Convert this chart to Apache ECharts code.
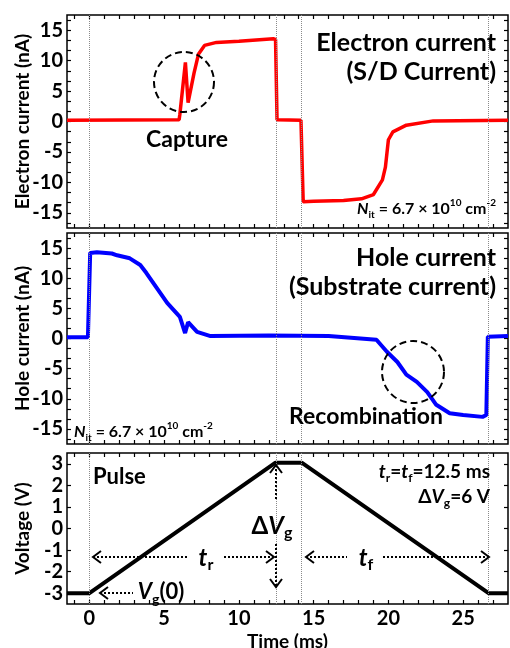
<!DOCTYPE html>
<html>
<head>
<meta charset="utf-8">
<script src="https://cdn.jsdelivr.net/npm/echarts@6/dist/echarts.min.js"></script>
<style>
  html, body { margin: 0; padding: 0; background: #fff; }
  #chart { width: 510px; height: 648px; }
</style>
</head>
<body>
<div id="chart"></div>
<script>
// time axis (ms)
const xLabelValues = [0, 5, 10, 15, 20, 25];
const xTickValues = [-1, 0, 1, 2, 3, 4, 5, 6, 7, 8, 9, 10, 11, 12, 13, 14, 15, 16, 17, 18, 19, 20, 21, 22, 23, 24, 25, 26, 27];
// current axes (nA)
const iLabelValues = [-15, -10, -5, 0, 5, 10, 15];
const iTickValues = [-16.67, -15, -13.33, -11.67, -10, -8.33, -6.67, -5, -3.33, -1.67, 0, 1.67, 3.33, 5, 6.67, 8.33, 10, 11.67, 13.33, 15, 16.67];
// voltage axis (V)
const vLabelValues = [-3, -2, -1, 0, 1, 2, 3];
const vTickValues = [-3, -2, -1, 0, 1, 2, 3];
// vertical guide lines (ms)
const guideTimes = [0, 12.5, 14.2, 26.7];

// electron current (S/D current)
const elecT = [-1.5, 6.0, 6.05, 6.42, 6.6, 7.0, 7.3, 7.7, 8.5, 10, 12.3, 12.45, 12.55, 14.15, 14.3, 15, 17, 18.2, 19.0, 19.6, 19.8, 20.0, 20.3, 21.2, 23, 28];
const elecI = [0.2, 0.3, 1.2, 9.7, 3.1, 8.0, 11.1, 12.5, 13.0, 13.2, 13.6, 13.5, 0.3, 0.2, -13.2, -13.1, -13.0, -12.7, -12.0, -9.6, -7.5, -3.0, -1.7, -0.6, 0.1, 0.2];

// hole current (substrate current)
const holeT = [-1.5, -0.1, 0.05, 0.5, 1.5, 1.85, 2.7, 3.4, 3.8, 4.5, 5.2, 6.05, 6.4, 6.6, 7.2, 8.1, 12, 16, 19.2, 19.9, 20.6, 21.2, 21.9, 22.6, 23.2, 24.1, 25, 26.3, 26.55, 26.65, 28];
const holeI = [0.2, 0.2, 14.2, 14.3, 14.1, 13.8, 13.3, 12.2, 10.9, 8.4, 5.9, 3.6, 0.9, 2.7, 1.1, 0.4, 0.5, 0.4, -0.2, -2.2, -3.9, -6.0, -7.2, -8.9, -11.0, -12.4, -12.7, -13.0, -12.7, 0.3, 0.4];

// gate pulse
const voltT = [-1.5, 0, 12.45, 14.2, 26.7, 28];
const voltV = [-3.0, -3.0, 3.05, 3.05, -3.0, -3.0];

const FONT = 'Lato';
const W = 'bold';
const grids = [
  { left: 67, top: 15, width: 441, height: 213 },
  { left: 67, top: 233, width: 441, height: 211 },
  { left: 67, top: 453, width: 441, height: 151 }
];
grids.forEach(function (g) {
  g.show = true; g.borderColor = '#000'; g.borderWidth = 1.5;
  g.containLabel = false; g.outerBoundsMode = 'none';
});

function xAxisFor(idx, pos, showLabel) {
  return {
    type: 'value', gridIndex: idx, position: pos, min: -1.5, max: 28,
    axisLine: { show: false, onZero: false },
    splitLine: { show: false },
    axisTick: { show: true, inside: true, length: 4, customValues: xTickValues, lineStyle: { color: '#000', width: 1.2 } },
    axisLabel: { show: showLabel, customValues: xLabelValues, margin: 5, color: '#000', fontFamily: FONT, fontWeight: W, fontSize: 20 },
    name: showLabel ? 'Time (ms)' : '', nameLocation: 'middle', nameGap: 28, nameMoveOverlap: false,
    nameTextStyle: { color: '#000', fontFamily: FONT, fontWeight: W, fontSize: 19 }
  };
}
function yAxisFor(idx, pos, min, max, ticks, labels, name) {
  const left = pos === 'left';
  return {
    type: 'value', gridIndex: idx, position: pos, min: min, max: max,
    axisLine: { show: false, onZero: false },
    splitLine: { show: false },
    axisTick: { show: true, inside: true, length: 4, customValues: ticks, lineStyle: { color: '#000', width: 1.2 } },
    axisLabel: { show: left, customValues: labels, margin: 4, color: '#000', fontFamily: FONT, fontWeight: W, fontSize: 20 },
    name: left ? name : '', nameLocation: 'middle', nameGap: 35, nameMoveOverlap: false,
    nameTextStyle: { color: '#000', fontFamily: FONT, fontWeight: W, fontSize: 19 }
  };
}

const guides = {
  silent: true, symbol: 'none', label: { show: false },
  lineStyle: { type: 'dotted', color: '#8a8a8a', width: 1 },
  data: guideTimes.map(function (t) { return { xAxis: t }; })
};

function pairs(ts, vs) { return ts.map(function (t, k) { return [t, vs[k]]; }); }

function rich(size) {
  const sub = Math.round(size * 0.65);
  return {
    n: { fontFamily: FONT, fontWeight: W, fontSize: size, lineHeight: size + 6, fill: '#000' },
    i: { fontFamily: FONT, fontWeight: W, fontStyle: 'italic', fontSize: size, lineHeight: size + 6, fill: '#000' },
    s: { fontFamily: FONT, fontWeight: W, fontSize: sub, lineHeight: sub + 2, verticalAlign: 'bottom', fill: '#000' },
    p: { fontFamily: FONT, fontWeight: W, fontSize: sub, lineHeight: sub + 2, verticalAlign: 'top', fill: '#000' }
  };
}
function txt(x, y, text, size, align, r) {
  const st = { text: text, fontFamily: FONT, fontWeight: W, fontSize: size, fill: '#000', align: align || 'center', verticalAlign: 'middle' };
  if (r) st.rich = rich(size);
  return { type: 'text', x: x, y: y, z: 100, style: st };
}
function dotted(x1, y1, x2, y2) {
  return { type: 'line', z: 100, shape: { x1: x1, y1: y1, x2: x2, y2: y2 }, style: { stroke: '#000', lineWidth: 2, lineDash: [2, 2] } };
}
function head(x, y, dir) {
  const L = 8, H = 6;
  let pts;
  if (dir === 'left') pts = [[x + L, y - H], [x, y], [x + L, y + H]];
  if (dir === 'right') pts = [[x - L, y - H], [x, y], [x - L, y + H]];
  if (dir === 'up') pts = [[x - H, y + L], [x, y], [x + H, y + L]];
  if (dir === 'down') pts = [[x - H, y - L], [x, y], [x + H, y - L]];
  return { type: 'polyline', z: 100, shape: { points: pts }, style: { stroke: '#000', lineWidth: 2, fill: null } };
}
function ring(cx, cy, r) {
  return { type: 'circle', z: 100, shape: { cx: cx, cy: cy, r: r }, style: { stroke: '#000', lineWidth: 2, lineDash: [7, 4], fill: null } };
}

const chart = echarts.init(document.getElementById('chart'), null, { renderer: 'canvas' });
chart.setOption({
  animation: false,
  backgroundColor: '#fff',
  grid: grids,
  xAxis: [
    xAxisFor(0, 'bottom', false), xAxisFor(0, 'top', false),
    xAxisFor(1, 'bottom', false), xAxisFor(1, 'top', false),
    xAxisFor(2, 'bottom', true), xAxisFor(2, 'top', false)
  ],
  yAxis: [
    yAxisFor(0, 'left', -17.5, 17.5, iTickValues, iLabelValues, 'Electron current (nA)'),
    yAxisFor(0, 'right', -17.5, 17.5, iTickValues, iLabelValues, ''),
    yAxisFor(1, 'left', -17.5, 17.5, iTickValues, iLabelValues, 'Hole current (nA)'),
    yAxisFor(1, 'right', -17.5, 17.5, iTickValues, iLabelValues, ''),
    yAxisFor(2, 'left', -3.5, 3.5, vTickValues, vLabelValues, 'Voltage (V)'),
    yAxisFor(2, 'right', -3.5, 3.5, vTickValues, vLabelValues, '')
  ],
  series: [
    { type: 'line', xAxisIndex: 0, yAxisIndex: 0, data: pairs(elecT, elecI), showSymbol: false,
      lineStyle: { color: '#ff0000', width: 3.5 }, markLine: guides },
    { type: 'line', xAxisIndex: 2, yAxisIndex: 2, data: pairs(holeT, holeI), showSymbol: false,
      lineStyle: { color: '#0000ff', width: 4 }, markLine: guides },
    { type: 'line', xAxisIndex: 4, yAxisIndex: 4, data: pairs(voltT, voltV), showSymbol: false,
      lineStyle: { color: '#000', width: 4 }, markLine: guides }
  ],
  graphic: [
    // top panel
    txt(496, 43, 'Electron current', 25, 'right'),
    txt(496, 72, '(S/D Current)', 25, 'right'),
    ring(184, 82, 30),
    txt(187, 140, 'Capture', 23),
    txt(496, 209, '{i|N}{s|it}{n| = 6.7 × 10}{p|10}{n| cm}{p|-2}', 16, 'right', true),
    // middle panel
    txt(496, 258, 'Hole current', 25, 'right'),
    txt(496, 287, '(Substrate current)', 25, 'right'),
    ring(413, 372, 31),
    txt(366, 417, 'Recombination', 23),
    txt(74, 432, '{i|N}{s|it}{n| = 6.7 × 10}{p|10}{n| cm}{p|-2}', 16, 'left', true),
    // bottom panel
    txt(93, 477, 'Pulse', 22, 'left'),
    txt(490, 472, '{i|t}{s|r}{n|=}{i|t}{s|f}{n|=12.5 ms}', 19, 'right', true),
    txt(490, 497, '{n|Δ}{i|V}{s|g}{n|=6 V}', 19, 'right', true),
    txt(272, 526, '{n|Δ}{i|V}{s|g}', 24, 'center', true),
    txt(206, 558, '{i|t}{s|r}', 24, 'center', true),
    txt(366, 558, '{i|t}{s|f}', 24, 'center', true),
    txt(161, 592, '{i|V}{s|g}{n|(0)}', 22, 'center', true),
    // arrows
    head(93, 557, 'left'), dotted(93, 557, 188, 557),
    dotted(224, 557, 274, 557), head(274, 557, 'right'),
    head(306, 557, 'left'), dotted(306, 557, 347, 557),
    dotted(383, 557, 489, 557), head(489, 557, 'right'),
    head(276, 465, 'up'), dotted(276, 465, 276, 500),
    dotted(276, 544, 276, 587), head(276, 587, 'down'),
    head(100, 593, 'left'), dotted(100, 593, 133, 593)
  ]
});
</script>
</body>
</html>
